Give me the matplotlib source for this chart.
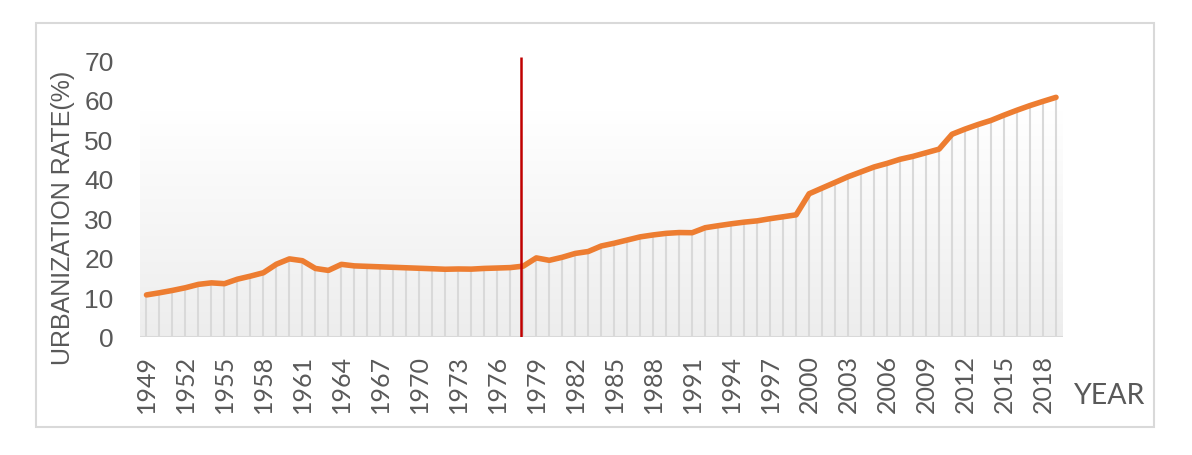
import numpy as np
import matplotlib
matplotlib.use('Agg')
from matplotlib import pyplot as plt
from matplotlib.patches import Rectangle

years = list(range(1949, 2020))
rates = [10.64, 11.18, 11.78, 12.46, 13.31, 13.69, 13.48, 14.62, 15.39, 16.25,
         18.41, 19.75, 19.29, 17.33, 16.84, 18.37, 17.98, 17.86, 17.74, 17.62,
         17.50, 17.38, 17.26, 17.13, 17.20, 17.16, 17.34, 17.44, 17.55, 17.92,
         20.0, 19.39, 20.16, 21.13, 21.62, 23.01, 23.71, 24.52, 25.32, 25.81,
         26.21, 26.41, 26.37, 27.63, 28.14, 28.62, 29.04, 29.37, 29.92, 30.40,
         30.89, 36.22, 37.66, 39.09, 40.53, 41.76, 42.99, 43.90, 44.94, 45.68,
         46.59, 47.50, 51.27, 52.57, 53.73, 54.77, 56.10, 57.35, 58.52, 59.58,
         60.60]
tick_years = list(range(1949, 2020, 3))
y_ticks = [0, 10, 20, 30, 40, 50, 60, 70]
reform_year = 1977.8

W, H = 1192, 456
fig = plt.figure(figsize=(W / 100, H / 100), dpi=100)

# outer frame
fig.patches.append(Rectangle((36 / W, 1 - 428 / H), (1154 - 36) / W, (428 - 24) / H,
                             transform=fig.transFigure, fill=False,
                             edgecolor='#d9d9d9', lw=1.5))

ax = fig.add_axes([140 / W, 1 - 338 / H, (1062.5 - 140) / W, (338 - 58) / H])
ax.set_xlim(1948.5, 2019.5)
ax.set_ylim(0, 70.8)

# gradient background
grad = np.linspace(0, 1, 256).reshape(-1, 1)
cmap = matplotlib.colors.LinearSegmentedColormap.from_list('g', ['#ededed', '#ffffff'])
ax.imshow(grad, extent=[1948.5, 2019.5, 0, 57], origin='lower', aspect='auto',
          cmap=cmap, zorder=0)

ax.vlines(years, 0, rates, color='#d9d9d9', lw=1.5, zorder=1)
ax.axhline(0, color='#d9d9d9', lw=1.5, zorder=1)
ax.plot(years, rates, color='#ED7D31', lw=4, solid_capstyle='round',
        solid_joinstyle='round', zorder=3)
ax.vlines(reform_year, 0, 70.8, color='#C00000', lw=1.8, zorder=4)

for s in ax.spines.values():
    s.set_visible(False)
ax.tick_params(length=0)
ax.set_xticks(tick_years)
ax.set_xticklabels([str(y) for y in tick_years], rotation=90, fontsize=18,
                   family='Lato', color='#595959')
ax.tick_params(axis='x', pad=12)
ax.set_yticks(y_ticks)
ax.set_yticklabels([str(v) for v in y_ticks], fontsize=19,
                   family='Liberation Sans', color='#595959')
ax.tick_params(axis='y', pad=19)

fig.text(63 / W, 1 - 218 / H, 'URBANIZATION RATE(%)', rotation=90, ha='center',
         va='center', fontsize=18, family='Liberation Sans', color='#595959')
fig.text(1074 / W, 1 - 396 / H, 'YEAR', ha='left', va='center', fontsize=20.5,
         family='Lato', color='#595959')

fig.savefig('out.png', dpi=100)
